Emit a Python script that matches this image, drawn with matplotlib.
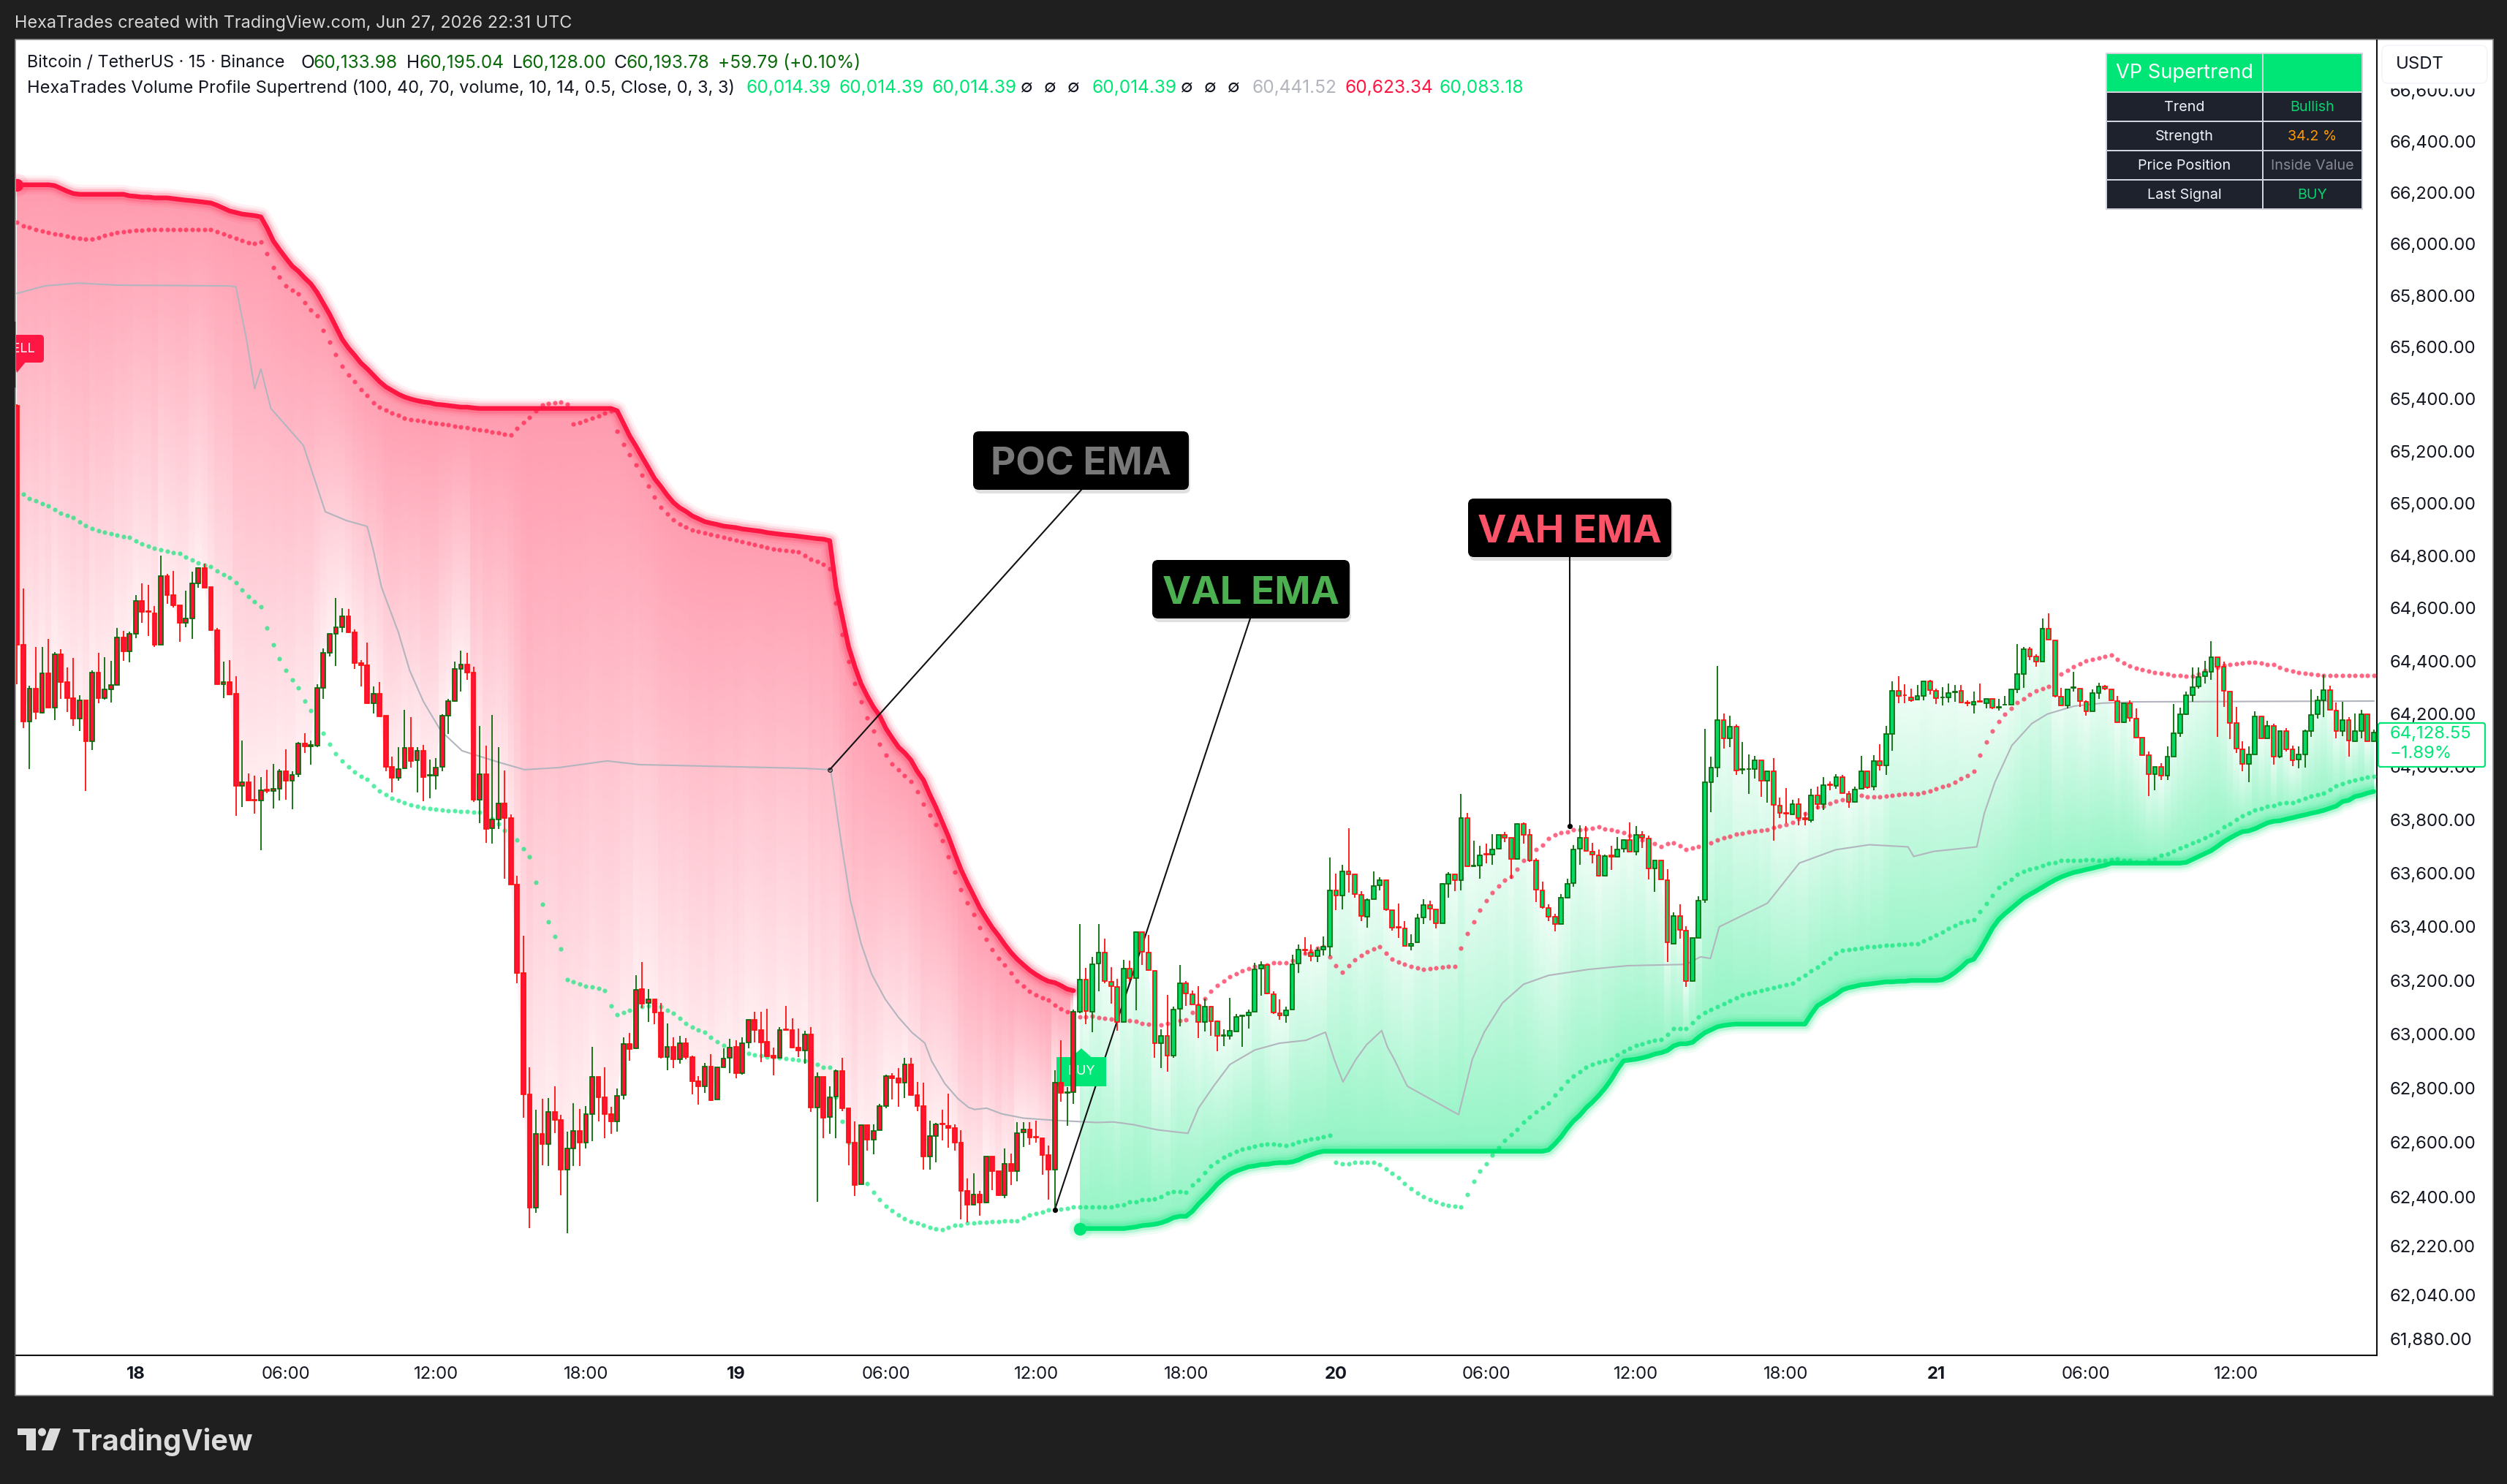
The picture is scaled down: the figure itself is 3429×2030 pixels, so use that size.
import numpy as np
import matplotlib
matplotlib.use("Agg")
import matplotlib.pyplot as plt
from matplotlib.patches import Rectangle, FancyBboxPatch, Polygon, Circle

plt.rcParams['font.family'] = ['Inter', 'DejaVu Sans']

W, H = 3430, 2030

# 15 minute candles
opens = [
    65375,64462,64171,64295,64205,64354,64223,64425,64320,64258,
    64181,64251,64096,64357,64258,64293,64309,64489,64437,64504,
    64628,64589,64581,64462,64723,64651,64612,64543,64561,64695,
    64753,64681,64518,64311,64320,64276,63929,63943,63876,63874,
    63913,63909,63918,63984,63948,63971,64089,64076,64080,64298,
    64432,64504,64529,64569,64508,64393,64384,64239,64276,64193,
    64001,63957,63994,64070,64024,64061,63967,63966,63999,64193,
    64248,64369,64386,64357,63877,63973,63768,63803,63863,63806,
    63558,63228,62778,62361,62633,62594,62712,62684,62499,62579,
    62644,62601,62705,62842,62767,62705,62679,62774,62965,62948,
    63168,63116,63131,63081,62916,62954,62908,62967,62916,62826,
    62808,62880,62758,62879,62912,62954,62857,62969,63054,63017,
    62973,62922,62912,63019,63017,62951,62941,63000,62729,62842,
    62693,62769,62864,62727,62599,62446,62665,62610,62646,62736,
    62845,62836,62820,62889,62775,62734,62549,62625,62670,62661,
    62653,62599,62423,62371,62409,62380,62550,62494,62407,62523,
    62494,62638,62649,62622,62615,62554,62500,62821,62783,62785,
    63084,63204,63084,63263,63304,63195,63177,63047,63244,63209,
    63380,63304,63237,62966,62994,62921,63095,63191,63150,63109,
    63046,63104,63048,62995,62995,63011,63068,63071,63084,63244,
    63257,63150,63079,63070,63091,63263,63314,63305,63291,63314,
    63326,63535,63517,63608,63597,63519,63439,63502,63555,63575,
    63462,63400,63394,63329,63341,63434,63482,63465,63414,63560,
    63597,63574,63807,63627,63628,63672,63670,63692,63743,63734,
    63654,63784,63743,63647,63537,63471,63439,63410,63509,63562,
    63692,63732,63682,63668,63590,63667,63661,63692,63724,63681,
    63745,63729,63619,63647,63574,63338,63441,63386,63198,63359,
    63500,63941,63996,64177,64108,64151,63989,63990,63992,64025,
    63947,63984,63855,63826,63821,63858,63806,63799,63891,63860,
    63934,63929,63960,63898,63867,63917,63982,63924,64021,64005,
    64124,64286,64271,64263,64254,64267,64322,64288,64261,64263,
    64281,64286,64242,64234,64247,64241,64255,64224,64234,64235,
    64292,64351,64444,64416,64398,64521,64479,64265,64231,64298,
    64296,64245,64208,64278,64304,64293,64248,64169,64240,64182,
    64109,64043,63973,64001,63967,64039,64127,64199,64271,64302,
    64341,64358,64414,64377,64285,64166,64067,64011,64046,64190,
    64108,64155,64039,64134,64065,64026,64047,64136,64197,64252,
    64290,64213,64134,64177,64097,64136,64199,64095,
]
highs = [
    65380,64674,64307,64452,64452,64482,64433,64445,64374,64410,
    64271,64251,64365,64430,64415,64399,64524,64515,64510,64651,
    64695,64690,64607,64799,64732,64743,64612,64667,64740,64757,
    64771,64681,64524,64396,64402,64341,64098,63976,63966,63962,
    63988,64011,63990,64066,63983,64094,64126,64098,64311,64448,
    64503,64640,64601,64598,64519,64404,64470,64302,64319,64193,
    64038,64074,64216,64188,64075,64083,64027,64034,64198,64256,
    64396,64438,64431,64379,64154,64080,64196,64074,63986,63820,
    63591,63368,62878,62721,62762,62765,62808,62701,62639,62746,
    62723,62734,62954,62842,62878,62731,62800,62990,63005,63220,
    63269,63168,63131,63117,63041,62988,62995,62986,62922,62846,
    62894,62926,62878,62948,62983,62979,62990,63054,63083,63083,
    63095,62950,63028,63106,63060,63021,63014,63026,62859,62842,
    62808,62870,62912,62727,62679,62665,62665,62666,62742,62850,
    62857,62876,62912,62914,62824,62821,62682,62672,62720,62780,
    62666,62647,62467,62488,62423,62550,62550,62494,62579,62559,
    62676,62676,62674,62681,62615,62589,62867,62978,62806,63093,
    63410,63248,63289,63411,63355,63249,63206,63278,63274,63380,
    63380,63369,63237,63019,63145,63102,63257,63197,63162,63179,
    63133,63104,63052,63018,63135,63075,63070,63093,63267,63271,
    63257,63159,63129,63104,63295,63333,63362,63333,63323,63363,
    63658,63599,63631,63768,63597,63532,63507,63606,63585,63575,
    63462,63486,63422,63373,63448,63503,63497,63465,63562,63604,
    63597,63898,63826,63722,63702,63711,63747,63743,63755,63734,
    63784,63791,63766,63656,63569,63483,63448,63521,63579,63706,
    63779,63777,63713,63690,63669,63702,63736,63727,63791,63777,
    63757,63741,63647,63647,63614,63455,63483,63402,63358,63515,
    64144,64039,64381,64200,64193,64159,64094,64047,64042,64025,
    63984,64033,63885,63920,63875,63881,63830,63917,63926,63961,
    63945,63973,63969,63910,63926,64042,63982,64044,64085,64154,
    64323,64342,64312,64295,64309,64322,64329,64295,64301,64315,
    64309,64309,64251,64285,64315,64255,64255,64257,64266,64292,
    64465,64453,64453,64426,64562,64581,64479,64298,64293,64358,
    64296,64252,64291,64316,64310,64293,64266,64240,64250,64219,
    64110,64058,64001,64014,64078,64236,64222,64284,64375,64375,
    64401,64475,64414,64397,64285,64225,64097,64076,64208,64190,
    64173,64162,64134,64145,64080,64076,64140,64291,64268,64347,
    64305,64242,64245,64187,64201,64215,64199,64140,
]
lows = [
    64312,64145,63992,64180,64202,64223,64175,64256,64207,64153,
    64136,63909,64064,64239,64253,64242,64309,64399,64395,64487,
    64544,64494,64453,64462,64618,64603,64471,64527,64482,64677,
    64677,64517,64311,64260,64270,63816,63847,63873,63823,63687,
    63900,63844,63872,63876,63841,63960,64052,64009,64075,64256,
    64416,64381,64507,64508,64371,64302,64239,64200,64189,63983,
    63902,63946,63994,63997,63904,63870,63881,63913,63983,64124,
    64246,64283,64328,63867,63789,63715,63712,63765,63581,63558,
    63190,62692,62286,62342,62517,62515,62634,62406,62266,62515,
    62515,62577,62606,62677,62615,62631,62639,62758,62902,62946,
    63097,63046,63038,62910,62867,62874,62891,62908,62777,62739,
    62783,62753,62758,62879,62856,62838,62851,62948,62971,62896,
    62919,62848,62912,63016,62951,62917,62891,62713,62382,62615,
    62631,62615,62715,62517,62404,62446,62571,62558,62646,62727,
    62758,62731,62764,62775,62715,62501,62501,62528,62609,62582,
    62570,62319,62308,62371,62331,62376,62425,62403,62396,62444,
    62457,62583,62593,62600,62482,62390,62343,62751,62661,62743,
    63079,63039,63007,63161,63190,63114,63014,63046,63195,63090,
    63258,63238,62914,62876,62862,62912,63029,63106,63111,62987,
    63011,62995,62937,62957,62980,63010,62954,63022,63084,63144,
    63149,63077,63055,63043,63091,63229,63295,63272,63270,63292,
    63291,63462,63464,63528,63509,63421,63397,63502,63537,63460,
    63386,63358,63329,63311,63341,63410,63425,63393,63414,63509,
    63533,63537,63626,63627,63581,63637,63633,63688,63718,63581,
    63654,63711,63642,63492,63468,63421,63382,63410,63506,63550,
    63633,63684,63638,63587,63590,63613,63661,63679,63681,63666,
    63695,63578,63530,63576,63268,63338,63356,63175,63198,63359,
    63489,63830,63961,64069,64073,63968,63973,63897,63955,63886,
    63865,63722,63808,63788,63821,63780,63780,63791,63840,63837,
    63912,63918,63901,63846,63867,63917,63918,63912,63987,63970,
    64059,64239,64239,64244,64254,64250,64274,64237,64231,64242,
    64246,64243,64228,64200,64246,64220,64217,64211,64234,64235,
    64279,64299,64404,64377,64398,64481,64261,64231,64219,64284,
    64227,64193,64208,64257,64289,64247,64169,64165,64171,64111,
    64044,63890,63912,63951,63951,64039,64113,64196,64245,64296,
    64315,64328,64113,64227,64104,64053,63984,63943,64046,64106,
    64108,64009,64034,64058,64002,63995,63998,64113,64182,64187,
    64215,64106,64115,64037,64097,64106,64095,64095,
]
closes = [
    64462,64170,64295,64207,64354,64223,64425,64320,64258,64181,
    64251,64096,64357,64258,64292,64308,64489,64436,64503,64628,
    64587,64587,64461,64723,64649,64610,64543,64561,64694,64752,
    64679,64517,64311,64320,64274,63927,63943,63873,63873,63912,
    63910,63917,63984,63948,63969,64089,64077,64081,64297,64432,
    64503,64528,64569,64508,64392,64383,64239,64276,64191,64000,
    63957,63992,64070,64023,64061,63960,63969,63997,64193,64248,
    64369,64386,64356,63875,63973,63767,63801,63863,63806,63558,
    63228,62778,62361,62633,62594,62712,62684,62499,62577,62644,
    62599,62704,62842,62767,62705,62679,62772,62965,62946,63166,
    63114,63130,63081,62915,62953,62908,62967,62915,62826,62808,
    62880,62756,62878,62910,62952,62856,62967,63054,63017,62971,
    62919,62912,63016,63016,62951,62941,63000,62729,62842,62691,
    62767,62864,62727,62599,62444,62665,62610,62644,62734,62845,
    62836,62820,62889,62775,62734,62549,62623,62666,62667,62653,
    62599,62423,62371,62409,62380,62550,62494,62405,62523,62494,
    62636,62649,62620,62620,62554,62500,62821,62782,62786,63084,
    63204,63086,63260,63304,63197,63179,63047,63244,63209,63380,
    63307,63238,62966,62994,62921,63093,63191,63152,63111,63046,
    63104,63048,62995,62998,63013,63066,63070,63081,63242,63257,
    63152,63081,63070,63090,63260,63314,63311,63291,63313,63325,
    63535,63517,63608,63597,63521,63441,63500,63553,63575,63464,
    63398,63397,63329,63338,63432,63482,63468,63414,63560,63597,
    63574,63807,63626,63629,63668,63669,63690,63743,63734,63654,
    63784,63745,63647,63539,63472,63439,63410,63509,63561,63690,
    63732,63684,63669,63590,63665,63663,63690,63724,63681,63745,
    63732,63619,63647,63576,63341,63441,63389,63198,63358,63498,
    63941,63996,64177,64108,64151,63987,63992,63992,64025,63947,
    63984,63857,63827,63823,63858,63807,63803,63891,63860,63930,
    63932,63960,63901,63867,63915,63982,63922,64021,64005,64123,
    64286,64268,64269,64252,64266,64322,64290,64259,64263,64277,
    64284,64243,64240,64244,64246,64255,64223,64226,64235,64292,
    64349,64444,64418,64398,64521,64481,64266,64231,64293,64301,
    64248,64208,64277,64304,64295,64251,64169,64240,64185,64111,
    64044,63972,64001,63967,64037,64127,64199,64271,64301,64340,
    64358,64414,64377,64287,64166,64069,64012,64046,64190,64108,
    64155,64039,64134,64067,64025,64046,64136,64196,64252,64290,
    64215,64134,64177,64099,64134,64199,64095,64128,
]

# supertrend line, upper part then lower part
st_upper = [
    66230,66230,66230,66230,66230,66230,66227,66216,66205,66196,
    66193,66193,66193,66193,66193,66193,66193,66193,66187,66185,
    66182,66182,66179,66179,66179,66176,66173,66170,66168,66165,
    66162,66159,66150,66139,66128,66122,66116,66113,66110,66105,
    66062,66011,65977,65945,65914,65894,65868,65845,65811,65769,
    65727,65679,65631,65597,65569,65539,65517,65492,65467,65447,
    65433,65419,65408,65400,65394,65389,65386,65380,65378,65375,
    65372,65369,65369,65366,65364,65364,65364,65364,65364,65364,
    65364,65364,65364,65364,65364,65364,65364,65364,65364,65364,
    65364,65364,65364,65364,65364,65364,65355,65307,65258,65219,
    65177,65136,65094,65064,65031,65003,64983,64969,64952,64941,
    64930,64924,64919,64913,64910,64907,64902,64899,64896,64893,
    64888,64885,64882,64879,64877,64874,64871,64868,64865,64863,
    64857,64680,64567,64455,64380,64314,64267,64225,64192,64144,
    64108,64074,64052,64025,63983,63950,63896,63847,63792,63737,
    63674,63614,63564,63518,63471,63433,63397,63367,63334,63304,
    63279,63258,63238,63222,63208,63197,63192,63181,63168,63162,
]
st_lower = [
    62284,62284,62284,62284,62284,62284,62284,62284,62287,62290,
    62295,62297,62300,62305,62313,62324,62329,62329,62347,62374,
    62397,62421,62447,62467,62484,62495,62503,62511,62514,62519,
    62520,62524,62526,62526,62529,62536,62547,62555,62563,62568,
    62568,62568,62568,62568,62568,62568,62568,62568,62568,62568,
    62568,62568,62568,62568,62568,62568,62568,62568,62568,62568,
    62568,62568,62568,62568,62568,62568,62568,62568,62568,62568,
    62568,62568,62568,62568,62568,62573,62595,62621,62653,62680,
    62701,62728,62749,62773,62800,62832,62870,62902,62905,62908,
    62913,62919,62927,62932,62940,62957,62965,62965,62970,62989,
    63006,63017,63028,63033,63036,63038,63038,63038,63038,63038,
    63038,63038,63038,63038,63038,63038,63038,63074,63106,63120,
    63134,63148,63165,63173,63178,63184,63186,63189,63192,63195,
    63195,63197,63197,63200,63200,63200,63200,63200,63203,63214,
    63230,63249,63271,63279,63312,63353,63395,63427,63449,63468,
    63488,63507,63521,63534,63548,63562,63575,63586,63595,63603,
    63608,63614,63619,63625,63630,63638,63638,63638,63638,63638,
    63638,63638,63638,63638,63638,63638,63638,63641,63652,63663,
    63674,63685,63701,63718,63732,63745,63756,63759,63767,63778,
    63789,63795,63797,63803,63808,63814,63819,63825,63830,63836,
    63844,63852,63869,63874,63888,63893,63901,63907,
]

# value area high EMA, dotted
vah_ema = [
    66084,66070,66064,66056,66050,66045,66039,66036,66030,66025,
    66022,66020,66019,66025,66033,66039,66045,66047,66050,66053,
    66053,66055,66055,66055,66055,66055,66056,66056,66056,66056,
    66057,66057,66047,66039,66030,66022,66013,66005,66002,66008,
    65963,65909,65872,65838,65821,65807,65773,65745,65720,65664,
    65619,65572,65527,65494,65466,65435,65413,65385,65369,65357,
    65346,65338,65326,65322,65319,65315,65311,65308,65304,65300,
    65297,65293,65289,65285,65282,65278,65274,65270,65266,65263,
    65288,65310,65330,65356,65376,65382,65385,65388,65380,65304,
    65310,65318,65327,65335,65346,65355,65276,65226,65187,65148,
    65108,65067,65024,64985,64960,64938,64921,64909,64898,64893,
    64887,64882,64876,64870,64865,64859,64854,64848,64843,64837,
    64832,64826,64823,64820,64818,64815,64801,64787,64778,64767,
    64750,64620,64500,64397,64315,64246,64185,64135,64085,64044,
    64011,63989,63967,63945,63906,63860,63819,63783,63723,63663,
    63605,63540,63490,63445,63396,63353,63315,63283,63258,63229,
    63199,63178,63159,63146,63135,63127,63108,63095,63084,63074,
    63065,63065,63067,63062,63059,63057,63054,63054,63052,63049,
    63041,63038,63036,63036,63041,63046,63052,63054,63081,63108,
    63133,63160,63182,63199,63213,63224,63235,63243,63251,63254,
    63259,63265,63265,63267,63273,63285,63301,63310,63321,63326,
    63288,63255,63230,63255,63277,63293,63307,63318,63326,63301,
    63279,63269,63260,63252,63247,63241,63244,63247,63249,63252,
    63252,63321,63375,63419,63463,63499,63529,63553,63573,63589,
    63616,63647,63669,63690,63707,63729,63745,63751,63756,63762,
    63764,63767,63770,63773,63767,63764,63759,63751,63742,63732,
    63726,63715,63710,63701,63710,63715,63704,63690,63696,63699,
    63701,63714,63725,63734,63739,63747,63749,63756,63759,63760,
    63764,63772,63777,63783,63791,63805,63825,63837,63849,63852,
    63863,63871,63875,63878,63886,63893,63887,63887,63886,63890,
    63893,63896,63898,63898,63898,63904,63910,63918,63926,63932,
    63943,63956,63967,63984,64045,64094,64136,64170,64197,64219,
    64242,64257,64274,64287,64296,64304,64319,64349,64365,64378,
    64390,64399,64406,64412,64417,64423,64406,64392,64382,64373,
    64367,64362,64357,64353,64349,64345,64345,64341,64341,64349,
    64363,64370,64375,64384,64387,64390,64392,64395,64395,64392,
    64387,64386,64376,64367,64362,64356,64352,64351,64347,64345,
    64345,64345,64345,64345,64345,64345,64345,64345,
]

# value area low EMA, dotted
val_ema = [
    65052,65035,65018,65010,64999,64991,64977,64963,64954,64946,
    64929,64915,64904,64895,64890,64884,64879,64873,64870,64856,
    64845,64837,64828,64823,64817,64812,64809,64795,64784,64773,
    64764,64759,64742,64728,64717,64697,64669,64644,64625,64605,
    64524,64461,64408,64363,64327,64299,64249,64212,64170,64126,
    64085,64049,64022,64000,63981,63964,63953,63928,63909,63895,
    63882,63873,63865,63857,63851,63846,63843,63840,63838,63835,
    63835,63832,63832,63829,63829,63818,63805,63785,63761,63745,
    63726,63693,63663,63565,63484,63419,63365,63319,63202,63195,
    63186,63180,63176,63170,63162,63105,63072,63081,63088,63097,
    63103,63105,63105,63102,63088,63078,63059,63040,63027,63015,
    63008,62989,62972,62959,62943,62934,62931,62929,62923,62920,
    62915,62915,62912,62910,62907,62905,62901,62896,62888,62877,
    62877,62767,62677,62601,62525,62478,62450,62417,62390,62365,
    62349,62333,62320,62310,62304,62295,62289,62284,62281,62289,
    62295,62296,62303,62304,62307,62307,62310,62310,62313,62313,
    62313,62323,62333,62339,62344,62352,62353,62356,62359,62362,
    62364,62364,62364,62364,62364,62362,62370,62372,62381,62383,
    62389,62391,62394,62402,62413,62421,62419,62416,62443,62462,
    62489,62514,62530,62546,62557,62568,62576,62581,62587,62592,
    62595,62595,62592,62590,62595,62603,62609,62613,62616,62621,
    62627,62528,62523,62523,62528,62528,62528,62528,62520,62502,
    62488,62470,62448,62430,62414,62400,62390,62382,62374,62369,
    62366,62363,62408,62456,62494,62523,62555,62581,62608,62629,
    62648,62674,62693,62714,62728,62746,62775,62800,62826,62845,
    62863,62879,62890,62898,62903,62908,62925,62937,62948,62959,
    62965,62973,62979,62981,63001,63022,63022,63022,63044,63066,
    63080,63092,63102,63113,63124,63135,63146,63151,63157,63162,
    63167,63173,63178,63184,63189,63205,63219,63236,63249,63266,
    63282,63301,63312,63315,63318,63321,63326,63326,63329,63332,
    63332,63334,63334,63337,63337,63348,63359,63370,63381,63395,
    63406,63416,63422,63427,63458,63488,63518,63548,63564,63578,
    63595,63608,63616,63622,63630,63636,63641,63647,63647,63649,
    63649,63652,63652,63647,63649,63652,63655,63649,63647,63644,
    63641,63647,63655,63666,63674,63685,63696,63704,63715,63723,
    63734,63745,63756,63773,63786,63803,63816,63827,63838,63844,
    63852,63855,63863,63866,63866,63874,63882,63890,63896,63901,
    63915,63929,63937,63945,63951,63956,63962,63964,
]

# point of control EMA, drawn as a thin line through these readings
poc_bars = [
    0,4.4,9.8,16,34,35,36.7,38,39,40.6,45.8,49.3,52.7,56,57,58.3,61,62.8,65,67.8,
    71.2,77.2,81.2,86.7,94.4,99.6,126,130.1,130.4,131.8,133.3,135,136.7,138.9,141,
    143.2,145.2,146.3,148.4,150.5,152.2,153.2,155.1,157.5,161,166,172.7,175.4,178.6,
    182.4,187.3,189,191.4,194,198,201.9,206.2,209.3,210.7,212.1,214.2,215.9,218.3,
    219.2,220.3,222.4,230.6,232.8,234.7,237.6,241,245,251.3,257.6,267,269.3,270.9,
    272.3,280,285.1,290.9,296.3,302.5,303.4,306.6,313.5,314.7,316.4,319.1,322.3,
    324.8,329.1,333.5,338.8,377,
]
poc_ema = [
    65808,65837,65848,65840,65837,65834,65631,65440,65517,65364,65222,64968,64934,
    64912,64820,64680,64508,64364,64246,64135,64060,64016,63989,63997,64022,64008,
    63994,63989,63950,63722,63500,63339,63224,63130,63063,63006,62968,62901,62818,
    62762,62730,62722,62727,62706,62690,62682,62674,62676,62666,62647,62634,62727,
    62808,62888,62942,62967,62978,63008,62908,62824,62908,62962,63014,62954,62908,
    62808,62703,62908,63008,63116,63186,63219,63241,63255,63260,63288,63282,63400,
    63488,63638,63688,63707,63699,63663,63682,63699,63825,63942,64080,64163,64199,
    64229,64240,64245,64248,
]

price_ticks = [66600,66400,66200,66000,65800,65600,65400,65200,65000,64800,64600,64400,
               64200,64000,63800,63600,63400,63200,63000,62800,62600,62400,62220,62040,61880]
time_ticks = [19,43,67,91,115,139,163,187,211,235,259,283,307,331,355]
time_labels = ['18','06:00','12:00','18:00','19','06:00','12:00','18:00',
               '20','06:00','12:00','18:00','21','06:00','12:00']

RED = '#ff1744'
GREEN = '#00e676'
UP_EDGE = '#0a6a0a'
DOWN_EDGE = '#ff0f0f'
DARK_BG = '#1f1f1f'

fig = plt.figure(figsize=(W / 100, H / 100), dpi=100, facecolor=DARK_BG)

# white panel
over_bg = fig.add_axes([0, 0, 1, 1], facecolor='none', zorder=0)
over_bg.set_xlim(0, W)
over_bg.set_ylim(H, 0)
over_bg.axis('off')
over_bg.add_patch(Rectangle((21, 54), 3389, 1855, fc='white', ec='#8a8a8a', lw=1.2))

ax = fig.add_axes([22 / W, 1 - 1854 / H, (3251 - 22) / W, (1854 - 55) / H], facecolor='none', zorder=1)
ax.set_yscale('log')
ax.set_xlim(-0.16, 377.5)
ax.set_ylim(61821, 66796)


def to_data(px, py):
    return ax.transData.inverted().transform((px, H - py))


bars = np.arange(len(closes))
closes_a = np.array(closes, dtype=float)


def gradient_band(first, line):
    # vertical gradient per bar, strongest at the supertrend, faint at the close
    idx = np.arange(first, first + len(line))
    line = np.array(line, dtype=float)
    close = closes_a[idx]
    y_edges = np.geomspace(61900, 66400, 700)
    y_mid = np.sqrt(y_edges[:-1] * y_edges[1:])
    x_edges = np.append(idx - 0.5, idx[-1] + 0.5)
    t = (y_mid[:, None] - close[None, :]) / (line - close)[None, :]
    t = np.clip(t, 0, 1)
    rgba = np.zeros((len(y_mid), len(idx), 4))
    rgba[..., :3] = matplotlib.colors.to_rgb(RED if first == 0 else GREEN)
    rgba[..., 3] = 0.07 + 0.36 * t
    mesh = ax.pcolormesh(x_edges, y_edges, rgba, shading='flat', zorder=1, antialiased=False, linewidth=0)
    outline = np.column_stack([np.r_[idx, idx[::-1]], np.r_[line, close[::-1]]])
    clip = Polygon(outline, closed=True, transform=ax.transData, fc='none', ec='none')
    ax.add_patch(clip)
    mesh.set_clip_path(clip)


gradient_band(0, st_upper)
gradient_band(170, st_lower)

ax.plot(poc_bars, poc_ema, color='#b2b5be', lw=1.5, zorder=2, solid_joinstyle='round')
ax.scatter(bars, vah_ema, s=20, color=RED, alpha=0.65, linewidths=0, zorder=3)
ax.scatter(bars, val_ema, s=20, color=GREEN, alpha=0.65, linewidths=0, zorder=3)

# supertrend with its glow
for first, line, col in [(0, st_upper, RED), (170, st_lower, GREEN)]:
    xs = np.arange(first, first + len(line))
    for lw, alpha in [(19, 0.06), (14, 0.09), (10, 0.16)]:
        ax.plot(xs, line, color=col, lw=lw, alpha=alpha, zorder=3.5, solid_capstyle='round')
    ax.plot(xs, line, color=col, lw=4.6, zorder=3.6, solid_capstyle='round')
    ax.plot(first, line[0], 'o', color=col, ms=12.5, mew=0, zorder=3.6)
    ax.plot(first, line[0], 'o', color=col, ms=23, mew=0, alpha=0.08, zorder=3.5)

# annotation leaders run below the candles
leader_bars = [130.0, 166.0, 248.4]
leader_prices = [63989, 62353, 63778]
leader_tops = [(1479, 670), (1710, 846), (2147, 762)]
for b, p, (tx, ty) in zip(leader_bars, leader_prices, leader_tops):
    dx, dy = to_data(tx, ty)
    ax.plot([b, dx], [p, dy], color='#111111', lw=1.5, zorder=4.2)
ax.plot(leader_bars[1:], leader_prices[1:], 'o', color='black', ms=5.2, mew=0, zorder=6)
ax.plot(leader_bars[0], leader_prices[0], 'o', mfc='none', mec='#222222', ms=4, mew=1, zorder=6)

# BUY label sits under the candles
bx, by = to_data(1445, 1486)
bx2, by2 = to_data(1513, 1446)
tip = [to_data(1479, 1434), to_data(1461, 1450), to_data(1497, 1450)]
ax.add_patch(Polygon(tip, closed=True, fc=GREEN, ec='none', zorder=4.4))
ax.fill_between([bx, bx2], [by, by], [by2, by2], color=GREEN, lw=0, zorder=4.4)
ax.text((bx + bx2) / 2, np.sqrt(by * by2), 'BUY', color='white', fontsize=13, ha='center', va='center', zorder=4.5)

# candles
for i in bars:
    o, h, l, c = opens[i], highs[i], lows[i], closes[i]
    edge = UP_EDGE if c >= o else DOWN_EDGE
    fill = '#ff1438' if i < 170 else '#00d966'
    ax.plot([i, i], [l, h], color=edge, lw=1.3, zorder=5, solid_capstyle='butt')
    ax.bar(i, abs(c - o), bottom=min(o, c), width=0.68, facecolor=fill, edgecolor=edge, linewidth=1.25, zorder=5.1)

# axes
for s in ['top', 'left']:
    ax.spines[s].set_visible(False)
for s in ['right', 'bottom']:
    ax.spines[s].set_linewidth(1.5)
    ax.spines[s].set_color('#111111')
ax.yaxis.tick_right()
ax.minorticks_off()
ax.set_yticks(price_ticks)
ax.set_yticklabels([f'{v:,.2f}' for v in price_ticks], fontsize=17.2, color='#131722')
ax.tick_params(axis='y', which='both', length=0, pad=13)
ax.yaxis.set_minor_locator(matplotlib.ticker.NullLocator())
ax.set_xticks(time_ticks)
ax.set_xticklabels(time_labels, fontsize=17.2, color='#131722')
for lab, txt in zip(ax.get_xticklabels(), time_labels):
    if len(txt) == 2:
        lab.set_fontweight('bold')
ax.tick_params(axis='x', length=0, pad=11)

# everything above the chart, in picture pixels
top = fig.add_axes([0, 0, 1, 1], facecolor='none', zorder=5)
top.set_xlim(0, W)
top.set_ylim(H, 0)
top.axis('off')

top.text(20, 32, 'HexaTrades created with TradingView.com, Jun 27, 2026 22:31 UTC',
         color='#d6d6d6', fontsize=16.9, va='center')

# legend rows
LEG = 17.6
DK = '#131722'
VAL_G = '#0a6a0a'
top.text(37, 86, 'Bitcoin / TetherUS · 15 · Binance', color=DK, fontsize=16.8, va='center')
for x, s, col in [(412, 'O', DK), (429, '60,133.98', VAL_G), (556, 'H', DK), (574, '60,195.04', VAL_G),
                  (701, 'L', DK), (714, '60,128.00', VAL_G), (840, 'C', DK), (857, '60,193.78', VAL_G),
                  (982, '+59.79 (+0.10%)', VAL_G)]:
    top.text(x, 86, s, color=col, fontsize=LEG, va='center')
top.text(37, 120, 'HexaTrades Volume Profile Supertrend (100, 40, 70, volume, 10, 14, 0.5, Close, 0, 3, 3)',
         color=DK, fontsize=17, va='center')
for x, s, col in [(1021, '60,014.39', GREEN), (1148, '60,014.39', GREEN), (1275, '60,014.39', GREEN),
                  (1396, '∅', DK), (1428, '∅', DK), (1460, '∅', DK), (1494, '60,014.39', GREEN),
                  (1615, '∅', DK), (1647, '∅', DK), (1679, '∅', DK), (1713, '60,441.52', '#b2b5be'),
                  (1840, '60,623.34', RED), (1969, '60,083.18', GREEN)]:
    top.text(x, 120, s, color=col, fontsize=LEG, va='center')

# SELL label cut by the left edge
top.add_patch(FancyBboxPatch((-15, 458), 75, 38, boxstyle='round,pad=0,rounding_size=5', fc=RED, ec='none'))
top.add_patch(Polygon([(22, 494), (36, 494), (23, 510), (22, 506)], closed=True, fc=RED, ec='none'))
top.text(27, 477, 'SELL', color='white', fontsize=13, ha='center', va='center')
top.add_patch(Rectangle((0, 440), 21, 90, fc=DARK_BG, ec='none', zorder=4))
top.plot([21, 21], [440, 530], color='#8a8a8a', lw=0.9, zorder=4.1)

# callout boxes
boxes = [(1331, 590, 295, 80, 'POC EMA', '#787878'),
         (1576, 766, 270, 80, 'VAL EMA', '#4caf50'),
         (2008, 682, 278, 80, 'VAH EMA', '#fb5468')]
for x, y, w, h, s, col in boxes:
    top.add_patch(FancyBboxPatch((x + 2, y + 5), w, h, boxstyle='round,pad=0,rounding_size=8',
                                 fc='#000000', ec='none', alpha=0.12))
    top.add_patch(FancyBboxPatch((x, y), w, h, boxstyle='round,pad=0,rounding_size=8', fc='black', ec='none'))
    top.text(x + w / 2, y + h / 2 + 6, s, color=col, fontsize=38, fontweight='bold', ha='center', va='center')

# status table
top.add_patch(Rectangle((2880, 72), 352, 215, fc='#d1d4dc', ec='none'))
top.add_patch(Rectangle((2882, 74), 212, 51, fc=GREEN, ec='none'))
top.add_patch(Rectangle((3096, 74), 134, 51, fc=GREEN, ec='none'))
top.text(2988, 100, 'VP Supertrend', color='white', fontsize=19.6, ha='center', va='center')
row_tops = [127, 167, 207, 247]
row_names = ['Trend', 'Strength', 'Price Position', 'Last Signal']
row_values = ['Bullish', '34.2 %', 'Inside Value', 'BUY']
row_colours = ['#06d470', '#ff9800', '#868993', '#06d470']
for y0, n, v, c in zip(row_tops, row_names, row_values, row_colours):
    top.add_patch(Rectangle((2882, y0), 212, 38, fc='#1e222d', ec='none'))
    top.add_patch(Rectangle((3096, y0), 134, 38, fc='#1e222d', ec='none'))
    top.text(2988, y0 + 19.5, n, color='#f0f3fa', fontsize=14.2, ha='center', va='center')
    top.text(3163, y0 + 19.5, v, color=c, fontsize=14.2, ha='center', va='center')

# currency button, its white backing cuts the top price label
top.add_patch(Rectangle((3253, 55), 155, 66, fc='white', ec='none'))
top.add_patch(FancyBboxPatch((3258, 62), 144, 52, boxstyle='round,pad=0,rounding_size=9', fc='white', ec='#f0f3fa', lw=1))
top.text(3277, 88, 'USDT', color=DK, fontsize=17.2, va='center')

# last price tag
top.add_patch(FancyBboxPatch((3253, 989), 146, 60, boxstyle='round,pad=0,rounding_size=3', fc='white', ec=GREEN, lw=1.6))
top.text(3269, 1004, '64,128.55', color=GREEN, fontsize=17.2, va='center')
top.text(3269, 1031, '\u22121.89%', color=GREEN, fontsize=17.2, va='center')

# TradingView mark
LOGO = '#dcdcdc'
top.add_patch(Polygon([(24, 1954), (49, 1954), (49, 1984), (36, 1984), (36, 1963), (24, 1963)], closed=True, fc=LOGO, ec='none'))
top.add_patch(Circle((57.5, 1959), 5.5, fc=LOGO, ec='none'))
top.add_patch(Polygon([(68, 1954), (83, 1954), (72, 1984), (57, 1984)], closed=True, fc=LOGO, ec='none'))
top.text(98, 1972, 'TradingView', color=LOGO, fontsize=28.5, fontweight='bold', va='center')

fig.savefig('out.png', dpi=100, facecolor=fig.get_facecolor())
